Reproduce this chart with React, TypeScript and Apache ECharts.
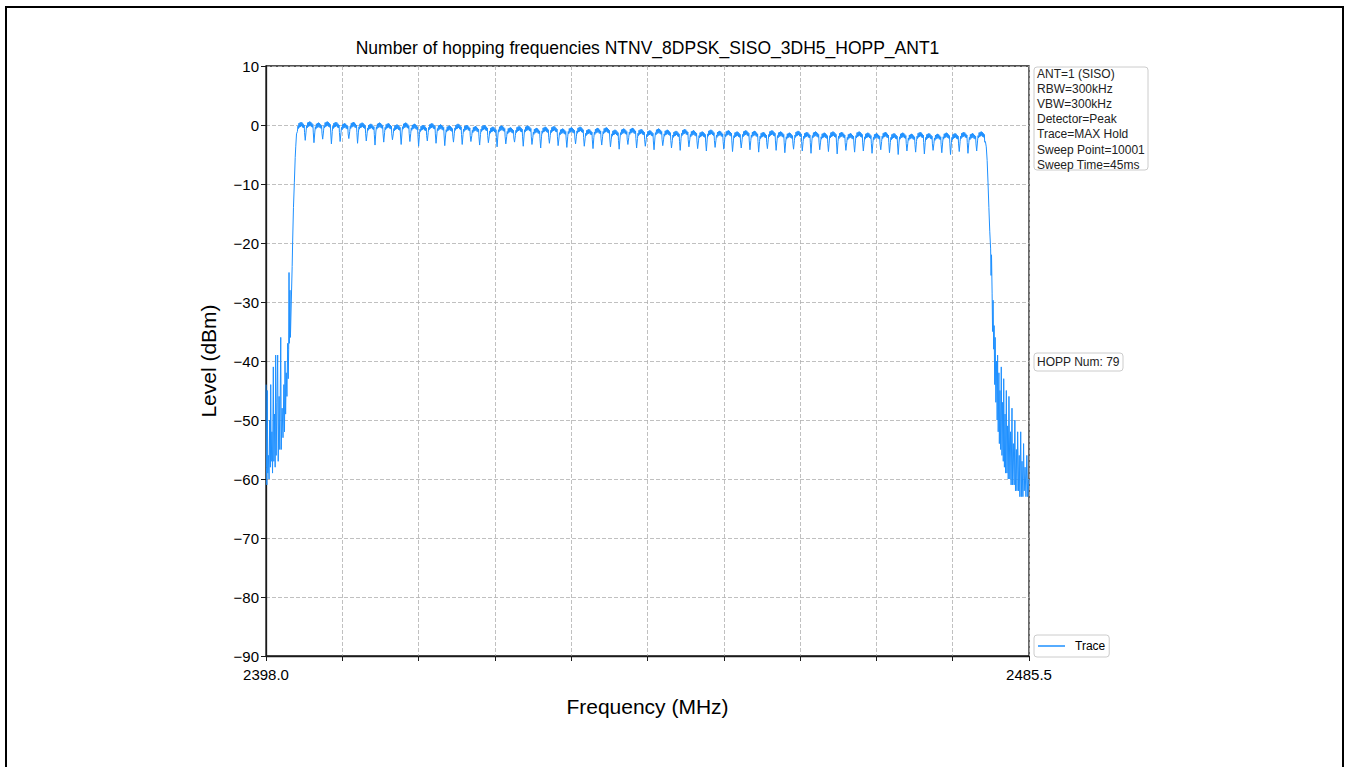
import React, { useEffect, useRef } from "react";
import * as echarts from "echarts";

const FONT = "'Liberation Sans', Arial, Helvetica, sans-serif";
const TRACE_COLOR = "#1E90FF";

const TITLE = "Number of hopping frequencies NTNV_8DPSK_SISO_3DH5_HOPP_ANT1";
const X_NAME = "Frequency (MHz)";
const Y_NAME = "Level (dBm)";
const SERIES_NAME = "Trace";

const X_MIN = 2398.0;
const X_MAX = 2485.5;
const X_TICK_STEP = 8.75;
const Y_MIN = -90;
const Y_MAX = 10;
const Y_TICK_STEP = 10;

const INFO_LINES = [
  "ANT=1 (SISO)",
  "RBW=300kHz",
  "VBW=300kHz",
  "Detector=Peak",
  "Trace=MAX Hold",
  "Sweep Point=10001",
  "Sweep Time=45ms",
];
const HOPP_TEXT = "HOPP Num: 79";

// Hopping channel centre frequencies (MHz)
const CHANNEL_FREQS = [
  2402, 2403, 2404, 2405, 2406, 2407, 2408, 2409, 2410, 2411,
  2412, 2413, 2414, 2415, 2416, 2417, 2418, 2419, 2420, 2421,
  2422, 2423, 2424, 2425, 2426, 2427, 2428, 2429, 2430, 2431,
  2432, 2433, 2434, 2435, 2436, 2437, 2438, 2439, 2440, 2441,
  2442, 2443, 2444, 2445, 2446, 2447, 2448, 2449, 2450, 2451,
  2452, 2453, 2454, 2455, 2456, 2457, 2458, 2459, 2460, 2461,
  2462, 2463, 2464, 2465, 2466, 2467, 2468, 2469, 2470, 2471,
  2472, 2473, 2474, 2475, 2476, 2477, 2478, 2479, 2480,
];

// Max-hold top level of each channel (dBm)
const CHANNEL_PEAKS = [
  0.5, 0.6, 0.4, 0.6, 0.5, 0.3, 0.5, 0.4, 0.2, 0.4,
  0.3, 0.1, 0.4, 0.2, 0.0, 0.3, 0.1, -0.1, 0.2, 0.0,
  -0.2, 0.0, -0.3, -0.1, -0.4, -0.2, -0.1, -0.5, -0.3, -0.2,
  -0.6, -0.4, -0.3, -0.7, -0.5, -0.4, -0.8, -0.6, -0.5, -0.7,
  -0.9, -0.6, -0.8, -1.0, -0.7, -0.9, -1.1, -0.8, -1.0, -0.9,
  -1.1, -0.9, -1.0, -1.2, -0.9, -1.1, -1.3, -1.0, -1.2, -1.1,
  -1.3, -1.1, -1.2, -1.4, -1.1, -1.3, -1.4, -1.2, -1.4, -1.3,
  -1.5, -1.2, -1.4, -1.5, -1.3, -1.4, -1.2, -1.4, -1.1,
];

// Notch level between neighbouring channels (dBm)
const CHANNEL_DIPS = [
  -2.6, -3.0, -2.4, -3.2, -2.8, -2.3, -3.1, -2.7, -3.4, -2.9,
  -2.5, -3.3, -2.8, -3.6, -2.7, -3.1, -3.5, -2.9, -3.3, -2.8,
  -3.4, -3.0, -3.7, -3.2, -2.9, -3.6, -3.3, -3.9, -3.1, -3.5,
  -3.8, -3.2, -3.6, -4.0, -3.4, -3.7, -4.1, -3.3, -3.9, -3.6,
  -4.2, -3.5, -3.9, -4.3, -3.7, -4.0, -4.4, -3.8, -4.1, -4.5,
  -3.9, -4.2, -4.6, -4.0, -4.3, -4.7, -4.1, -4.4, -4.8, -4.2,
  -4.5, -4.9, -4.3, -4.6, -4.4, -4.8, -4.2, -4.7, -5.0, -4.4,
  -4.6, -4.9, -4.3, -4.7, -5.0, -4.5, -4.8, -4.4,
];

// Ragged max-hold top of one channel: [offset from centre (MHz), dB below channel top]
const CHANNEL_SHAPE = [
  [-0.40, -1.6], [-0.34, -0.7], [-0.28, -1.1], [-0.22, -0.2], [-0.16, -0.9],
  [-0.10, -0.1], [-0.04, -0.8], [0.02, 0.0], [0.08, -0.7], [0.14, -0.1],
  [0.20, -0.9], [0.26, -0.3], [0.32, -1.0], [0.38, -0.5], [0.42, -1.8],
];

// Lower band-edge skirt [MHz, dBm]
const LOWER_SKIRT = [
  [2398.0, -44], [2398.05, -58], [2398.1, -61], [2398.15, -45], [2398.2, -59],
  [2398.28, -56], [2398.35, -60], [2398.42, -50], [2398.5, -58], [2398.54, -44],
  [2398.6, -57], [2398.68, -52], [2398.75, -59], [2398.84, -41], [2398.9, -57],
  [2398.97, -49], [2399.05, -58], [2399.11, -39], [2399.17, -56], [2399.25, -47],
  [2399.34, -39], [2399.4, -57], [2399.5, -46], [2399.58, -55], [2399.69, -36],
  [2399.75, -55], [2399.85, -48], [2399.95, -53], [2400.05, -44], [2400.12, -52],
  [2400.18, -40], [2400.25, -49], [2400.32, -42], [2400.4, -46], [2400.49, -37],
  [2400.55, -43], [2400.6, -38], [2400.64, -25], [2400.68, -37], [2400.75, -28],
  [2400.8, -36], [2400.9, -30], [2401.0, -24], [2401.06, -19.5], [2401.15, -14],
  [2401.25, -9.8], [2401.35, -5.5], [2401.41, -3.7], [2401.5, -1.5],
];

// Upper band-edge skirt [MHz, dBm]
const UPPER_SKIRT = [
  [2480.5, -2.8], [2480.6, -3.7], [2480.7, -6], [2480.8, -9.8], [2480.9, -14],
  [2481.0, -18], [2481.1, -21], [2481.15, -25.5], [2481.2, -22], [2481.27, -28.5],
  [2481.32, -35], [2481.38, -29.7], [2481.45, -38], [2481.5, -34], [2481.57, -44],
  [2481.62, -36], [2481.7, -47], [2481.78, -40], [2481.85, -50], [2481.9, -39],
  [2481.97, -52], [2482.05, -42], [2482.1, -54], [2482.17, -45], [2482.25, -55],
  [2482.32, -41], [2482.4, -56], [2482.48, -47], [2482.55, -57], [2482.6, -43],
  [2482.68, -58], [2482.75, -49], [2482.82, -59], [2482.9, -45], [2482.97, -59],
  [2483.05, -51], [2483.12, -60], [2483.2, -46], [2483.3, -60], [2483.38, -52],
  [2483.45, -61], [2483.55, -48], [2483.62, -61], [2483.7, -54], [2483.8, -61],
  [2483.88, -50], [2483.95, -62], [2484.05, -55], [2484.12, -62], [2484.2, -52],
  [2484.3, -62], [2484.38, -56], [2484.45, -63], [2484.55, -52], [2484.62, -63],
  [2484.7, -57], [2484.8, -63], [2484.88, -54], [2484.95, -62], [2485.05, -58],
  [2485.15, -63], [2485.25, -56], [2485.35, -63], [2485.5, -60],
];

function buildTrace(): number[][] {
  const pts: number[][] = [];
  LOWER_SKIRT.forEach((p) => pts.push([p[0], p[1]]));
  CHANNEL_FREQS.forEach((fc, k) => {
    CHANNEL_SHAPE.forEach((s) => pts.push([fc + s[0], CHANNEL_PEAKS[k] + s[1]]));
    if (k < CHANNEL_DIPS.length) pts.push([fc + 0.5, CHANNEL_DIPS[k]]);
  });
  UPPER_SKIRT.forEach((p) => pts.push([p[0], p[1]]));
  return pts;
}

const near = (a: number, b: number) => Math.abs(a - b) < 1e-6;

export default function App() {
  const ref = useRef<HTMLDivElement>(null);

  useEffect(() => {
    if (!ref.current) return;
    const chart = echarts.init(ref.current, undefined, { renderer: "svg" });
    const axisColor = "#1a1a1a";
    const gridLine = { show: true, lineStyle: { type: [4, 2], color: "#b0b0b0", width: 0.8 } };

    const option: any = {
      animation: false,
      backgroundColor: "#ffffff",
      textStyle: { fontFamily: FONT },
      title: {
        text: TITLE,
        left: 647.5,
        top: 39,
        textAlign: "center",
        padding: 0,
        textStyle: { fontFamily: FONT, fontSize: 17.5, fontWeight: "normal", color: "#000" },
      },
      grid: {
        left: 266,
        right: 319,
        top: 66,
        bottom: 111,
        show: true,
        borderColor: axisColor,
        borderWidth: 1.3,
        backgroundColor: "transparent",
      },
      legend: {
        data: [SERIES_NAME],
        left: 1034,
        top: 635,
        padding: [4, 4, 4, 4],
        icon: "rect",
        itemWidth: 27,
        itemHeight: 1.5,
        itemGap: 10,
        borderColor: "#cccccc",
        borderWidth: 1,
        borderRadius: 3,
        backgroundColor: "#fff",
        textStyle: {
          fontFamily: FONT,
          fontSize: 12,
          color: "#000",
          lineHeight: 14,
          padding: [0, 0, 0, 5],
        },
      },
      xAxis: {
        type: "value",
        min: X_MIN,
        max: X_MAX,
        interval: X_TICK_STEP,
        name: X_NAME,
        nameLocation: "middle",
        nameGap: 40,
        nameTextStyle: { fontFamily: FONT, fontSize: 21, color: "#000" },
        axisLine: { show: true, onZero: false, lineStyle: { color: axisColor, width: 1.3 } },
        axisTick: { show: true, inside: false, length: 5, lineStyle: { color: axisColor, width: 1 } },
        axisLabel: {
          show: true,
          interval: 0,
          showMinLabel: true,
          showMaxLabel: true,
          margin: 11,
          fontFamily: FONT,
          fontSize: 15,
          color: "#000",
          formatter: (v: number) => (near(v, X_MIN) || near(v, X_MAX) ? v.toFixed(1) : ""),
        },
        splitLine: gridLine,
      },
      yAxis: {
        type: "value",
        min: Y_MIN,
        max: Y_MAX,
        interval: Y_TICK_STEP,
        name: Y_NAME,
        nameLocation: "middle",
        nameGap: 47,
        nameTextStyle: { fontFamily: FONT, fontSize: 21, color: "#000" },
        axisLine: { show: true, onZero: false, lineStyle: { color: axisColor, width: 1.3 } },
        axisTick: { show: true, inside: false, length: 5, lineStyle: { color: axisColor, width: 1 } },
        axisLabel: {
          margin: 7,
          fontFamily: FONT,
          fontSize: 15,
          color: "#000",
          formatter: (v: number) => (v < 0 ? "\u2212" + Math.abs(v) : String(v)),
        },
        splitLine: gridLine,
      },
      graphic: [
        {
          type: "rect",
          silent: true,
          shape: { x: 6, y: 7, width: 1337, height: 800 },
          style: { fill: "none", stroke: "#000", lineWidth: 2 },
        },
        {
          type: "rect",
          silent: true,
          shape: { x: 1034, y: 67, width: 114, height: 103, r: 3 },
          style: { fill: "#fff", stroke: "#cccccc", lineWidth: 1 },
        },
        {
          type: "text",
          silent: true,
          x: 1037,
          y: 66,
          style: {
            text: INFO_LINES.join("\n"),
            fontFamily: FONT,
            fontSize: 12,
            lineHeight: 15.2,
            fill: "#222",
            textVerticalAlign: "top",
          },
        },
        {
          type: "rect",
          silent: true,
          shape: { x: 1034, y: 353, width: 89, height: 18, r: 3 },
          style: { fill: "#fff", stroke: "#cccccc", lineWidth: 1 },
        },
        {
          type: "text",
          silent: true,
          x: 1037,
          y: 362,
          style: {
            text: HOPP_TEXT,
            fontFamily: FONT,
            fontSize: 12,
            fill: "#222",
            textVerticalAlign: "middle",
          },
        },
      ],
      series: [
        {
          type: "line",
          name: SERIES_NAME,
          data: buildTrace(),
          symbol: "none",
          showSymbol: false,
          clip: true,
          lineStyle: { color: TRACE_COLOR, width: 1 },
          itemStyle: { color: TRACE_COLOR },
          z: 3,
        },
      ],
    };

    chart.setOption(option);
    return () => chart.dispose();
  }, []);

  return (
    <div
      ref={ref}
      style={{ position: "fixed", left: 0, top: 0, width: 1348, height: 767, background: "#fff" }}
    />
  );
}
